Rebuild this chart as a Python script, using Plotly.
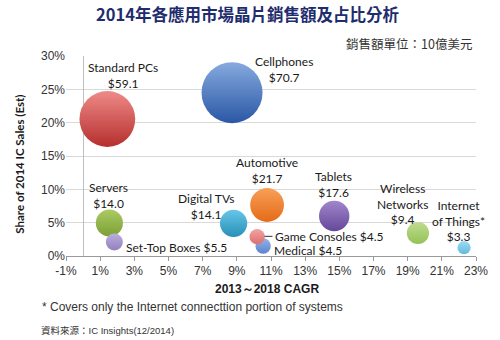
import plotly.graph_objects as go

categories = ["Standard PCs", "Cellphones", "Servers", "Set-Top Boxes", "Digital TVs",
              "Automotive", "Medical", "Game Consoles", "Tablets", "Wireless Networks",
              "Internet of Things*"]
cagr = [1.42, 8.72, 1.54, 1.83, 8.81, 10.77, 10.54, 10.19, 14.7, 19.6, 22.3]
share = [20.55, 24.5, 4.95, 2.1, 4.9, 7.65, 1.5, 2.9, 6.0, 3.45, 1.25]
sales = [59.1, 70.7, 14.0, 5.5, 14.1, 21.7, 4.5, 4.5, 17.6, 9.4, 3.3]
top_colors = ["#ee8a88", "#86aadf", "#aacb62", "#bcaedb", "#67c6e8", "#f99f58",
              "#95b2e8", "#f2a4a3", "#a086cc", "#c0dc90", "#a0d8ef"]
bottom_colors = ["#b52f2d", "#2a57a5", "#7ba036", "#9280c0", "#2890b6", "#e46b18",
                 "#5c83cf", "#dc6e6d", "#654898", "#94c256", "#5fbbe0"]

x_tickvals = list(range(-1, 24, 2))
x_ticktext = [f"{v}%" for v in x_tickvals]
y_tickvals = list(range(0, 31, 5))
y_ticktext = [f"{v}%" for v in y_tickvals]

# bubble labels: (text, x, y, xanchor)
bubble_labels = [
    ("Standard PCs<br>$59.1", 2.35, 27.15, "center"),
    ("Cellphones<br>$70.7", 11.75, 27.95, "center"),
    ("Automotive<br>$21.7", 10.77, 12.8, "center"),
    ("Tablets<br>$17.6", 14.64, 10.7, "center"),
    ("Wireless<br>Networks<br>$9.4", 18.68, 7.85, "center"),
    ("Internet<br>of Things*<br>$3.3", 22.0, 5.3, "center"),
    ("Servers<br>$14.0", 1.48, 9.05, "center"),
    ("Digital TVs<br>$14.1", 7.19, 7.5, "center"),
    ("Set-Top Boxes $5.5", 2.40, 1.35, "left"),
    ("Medical $4.5", 11.06, 0.9, "left"),
]

fig = go.Figure()
fig.add_trace(go.Scatter(
    x=cagr, y=share, mode="markers",
    text=categories,
    marker=dict(
        size=sales, sizemode="area", sizeref=0.038,
        color=top_colors,
        gradient=dict(type="vertical", color=bottom_colors),
        line=dict(width=0), opacity=1,
    ),
    cliponaxis=False, hoverinfo="text",
))

label_font = dict(family="Lato, Open Sans, sans-serif", size=12, color="#1a1a1a")
annotations = []
for txt, xv, yv, xa in bubble_labels:
    annotations.append(dict(x=xv, y=yv, xref="x", yref="y", text=txt, showarrow=False,
                            xanchor=xa, yanchor="middle", align="center", font=label_font))
# Game consoles with leader line
annotations.append(dict(x=10.62, y=2.95, xref="x", yref="y", text="Game Consoles $4.5",
                        showarrow=True, arrowhead=0, arrowwidth=1, arrowcolor="#333333",
                        ax=8, ay=0, xanchor="left", yanchor="middle", font=label_font,
                        standoff=0, startstandoff=0))

annotations += [
    dict(x=0.4423, y=1.21, xref="paper", yref="paper", showarrow=False,
         text="<b>2014年各應用市場晶片銷售額及占比分析</b>",
         font=dict(family="Noto Sans CJK TC, sans-serif", size=16.5, color="#1f2c6e"),
         xanchor="center", yanchor="middle"),
    dict(x=0.995, y=1.065, xref="paper", yref="paper", showarrow=False,
         text="銷售額單位：10億美元",
         font=dict(family="Noto Sans CJK TC, sans-serif", size=12.5, color="#333333"),
         xanchor="right", yanchor="middle"),
    dict(x=-0.1154, y=0.46, xref="paper", yref="paper", showarrow=False,
         text="<b>Share of 2014 IC Sales (Est)</b>", textangle=-90,
         font=dict(family="Lato, sans-serif", size=11.5, color="#1a1a1a"),
         xanchor="center", yanchor="middle"),
    dict(x=0.4904, y=-0.165, xref="paper", yref="paper", showarrow=False,
         text="<b>2013～2018 CAGR</b>",
         font=dict(family="Liberation Sans, Arial, sans-serif", size=12, color="#1a1a1a"),
         xanchor="center", yanchor="middle"),
    dict(x=-0.0625, y=-0.255, xref="paper", yref="paper", showarrow=False,
         text="* Covers only the Internet connecttion portion of systems",
         font=dict(family="Liberation Sans, Arial, sans-serif", size=12, color="#333333"),
         xanchor="left", yanchor="middle"),
    dict(x=-0.0649, y=-0.37, xref="paper", yref="paper", showarrow=False,
         text="資料來源：IC Insights(12/2014)",
         font=dict(family="Liberation Sans, Noto Sans CJK TC, sans-serif", size=9.5, color="#333333"),
         xanchor="left", yanchor="middle"),
]

fig.update_layout(
    width=500, height=340,
    margin=dict(l=66, r=18, t=56, b=84),
    paper_bgcolor="white", plot_bgcolor="white",
    showlegend=False,
    annotations=annotations,
    xaxis=dict(range=[-1, 23], tickvals=x_tickvals, ticktext=x_ticktext,
               showgrid=False, zeroline=True, zerolinecolor="#bfbfbf", zerolinewidth=1,
               showline=True, linecolor="#999999", linewidth=1,
               ticks="outside", ticklen=4, tickcolor="#999999",
               tickfont=dict(family="Liberation Sans, Arial, sans-serif", size=12, color="#333333")),
    yaxis=dict(range=[0, 30], tickvals=y_tickvals, ticktext=y_ticktext,
               showgrid=True, gridcolor="#d9d9d9", gridwidth=1, zeroline=False,
               showline=False, ticks="",
               tickfont=dict(family="Liberation Sans, Arial, sans-serif", size=12, color="#333333")),
)

fig.write_html("out.html")
